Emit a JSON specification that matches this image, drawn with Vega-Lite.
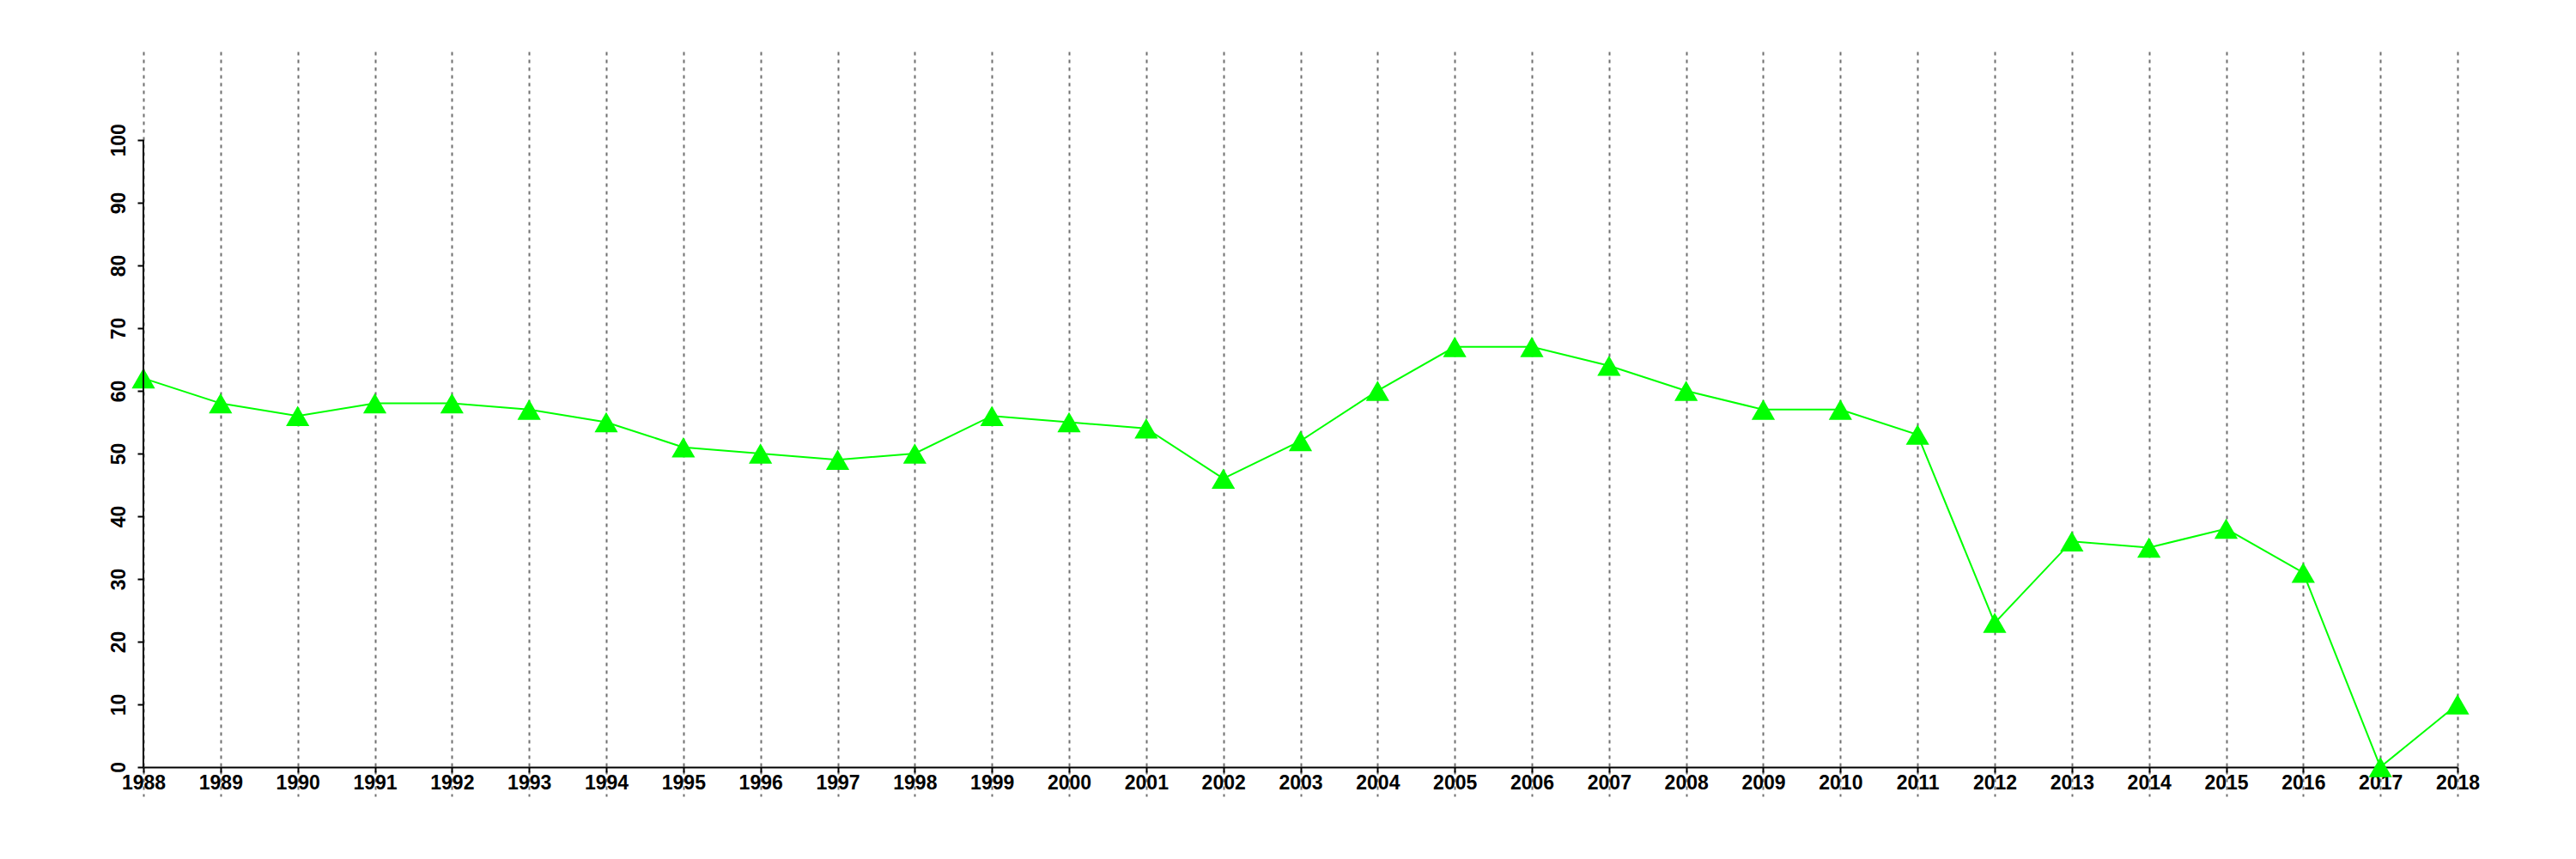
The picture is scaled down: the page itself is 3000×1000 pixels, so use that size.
{
  "$schema": "https://vega.github.io/schema/vega-lite/v6.json",
  "autosize": {"type": "none"},
  "width": 2695,
  "height": 867,
  "padding": {"left": 167, "top": 60, "right": 138, "bottom": 73},
  "background": "white",
  "config": {"view": {"stroke": null}},
  "datasets": {
    "series": [
      {"year": 1988, "value": 62}, {"year": 1989, "value": 58}, {"year": 1990, "value": 56},
      {"year": 1991, "value": 58}, {"year": 1992, "value": 58}, {"year": 1993, "value": 57},
      {"year": 1994, "value": 55}, {"year": 1995, "value": 51}, {"year": 1996, "value": 50},
      {"year": 1997, "value": 49}, {"year": 1998, "value": 50}, {"year": 1999, "value": 56},
      {"year": 2000, "value": 55}, {"year": 2001, "value": 54}, {"year": 2002, "value": 46},
      {"year": 2003, "value": 52}, {"year": 2004, "value": 60}, {"year": 2005, "value": 67},
      {"year": 2006, "value": 67}, {"year": 2007, "value": 64}, {"year": 2008, "value": 60},
      {"year": 2009, "value": 57}, {"year": 2010, "value": 57}, {"year": 2011, "value": 53},
      {"year": 2012, "value": 23}, {"year": 2013, "value": 36}, {"year": 2014, "value": 35},
      {"year": 2015, "value": 38}, {"year": 2016, "value": 31}, {"year": 2017, "value": 0},
      {"year": 2018, "value": 10}
    ],
    "yaxis": [{"year": 1988, "lo": 0, "hi": 100}]
  },
  "layer": [
    {
      "data": {"name": "series"},
      "mark": {"type": "line", "color": "#00FF00", "strokeWidth": 2},
      "encoding": {
        "x": {
          "field": "year", "type": "quantitative",
          "scale": {"domain": [1988, 2018], "nice": false, "zero": false},
          "axis": {
            "values": [1988,1989,1990,1991,1992,1993,1994,1995,1996,1997,1998,1999,2000,2001,2002,2003,2004,2005,2006,2007,2008,2009,2010,2011,2012,2013,2014,2015,2016,2017,2018],
            "format": "d",
            "title": null,
            "offset": -34,
            "domain": true,
            "domainColor": "black",
            "domainWidth": 2,
            "ticks": true,
            "tickColor": "black",
            "tickWidth": 2,
            "tickSize": 6,
            "labelPadding": 1,
            "labelFont": "Liberation Sans",
            "labelFontWeight": "bold",
            "labelFontSize": 23,
            "labelColor": "black",
            "labelFlush": false,
            "labelOverlap": false,
            "grid": true,
            "gridColor": "#707070",
            "gridWidth": 2,
            "gridDash": [4, 5]
          }
        },
        "y": {
          "field": "value", "type": "quantitative",
          "scale": {"domain": [-4.66, 114.1], "nice": false, "zero": false},
          "axis": {
            "values": [0, 10, 20, 30, 40, 50, 60, 70, 80, 90, 100],
            "title": null,
            "domain": false,
            "grid": false,
            "ticks": true,
            "tickColor": "black",
            "tickWidth": 2,
            "tickSize": 7,
            "labelPadding": 10,
            "labelAngle": 270,
            "labelFont": "Liberation Sans",
            "labelFontWeight": "bold",
            "labelFontSize": 23,
            "labelColor": "black",
            "labelFlush": false,
            "labelOverlap": false
          }
        }
      }
    },
    {
      "data": {"name": "series"},
      "mark": {"type": "point", "shape": "triangle-up", "filled": true, "color": "#00FF00", "opacity": 1, "size": 740},
      "encoding": {
        "x": {"field": "year", "type": "quantitative"},
        "y": {"field": "value", "type": "quantitative"}
      }
    },
    {
      "data": {"name": "yaxis"},
      "mark": {"type": "rule", "color": "black", "strokeWidth": 2},
      "encoding": {
        "x": {"field": "year", "type": "quantitative"},
        "y": {"field": "lo", "type": "quantitative"},
        "y2": {"field": "hi"}
      }
    }
  ]
}
